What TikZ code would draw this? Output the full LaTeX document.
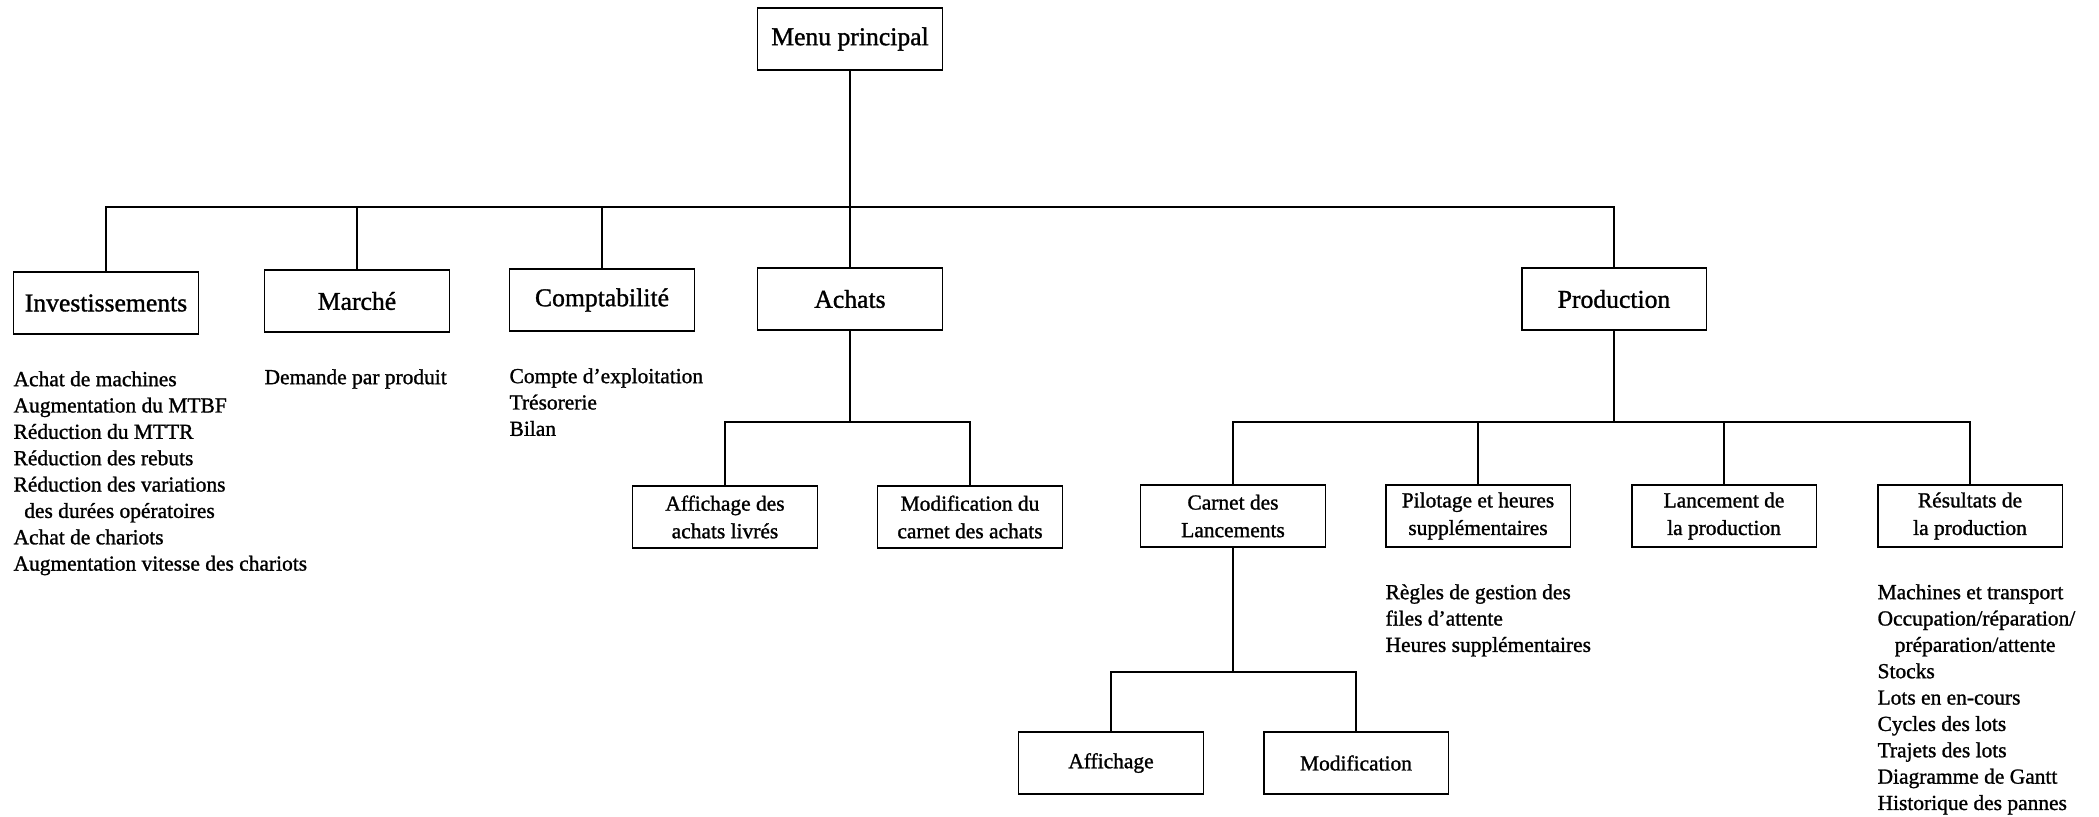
\documentclass[tikz,border=0pt]{standalone}
\usepackage{fontspec}
\setmainfont{Liberation Serif}[FakeBold=1.2]
\usetikzlibrary{positioning}
\tikzset{boite/.style={draw, rectangle, line width=1.1pt, minimum width=3.7cm, minimum height=1.25cm, inner sep=2pt, align=center}}
\tikzstyle{grand}=[boite, font=\fontsize{14.6}{17}\selectfont]
\tikzstyle{petit}=[boite, font=\fontsize{12.2}{15.7}\selectfont]
\tikzstyle{liste}=[align=left, inner sep=0pt, font=\fontsize{12.2}{15}\selectfont]

\begin{document}
\begin{tikzpicture}[x=0.02cm, y=-0.02cm, line width=1.2pt]
\useasboundingbox (0,0) rectangle (2099,816);
\node[grand] (menu) at (850,39) {Menu principal};
\node[grand] (inv) at (106,303) {Investissements};
\node[grand] (mar) at (357,301) {Marché};
\node[grand] (compta) at (602,300) {Comptabilité};
\node[grand] (ach) at (850,299) {Achats};
\node[grand] (prod) at (1614,299) {Production};
\node[petit] (affach) at (725,517) {Affichage des\\achats livrés};
\node[petit] (modach) at (970,517) {Modification du\\carnet des achats};
\node[petit] (carnet) at (1233,516) {Carnet des\\Lancements};
\node[petit] (pilot) at (1478,516) {Pilotage et heures\\supplémentaires};
\node[petit] (lanc) at (1724,516) {Lancement de\\la production};
\node[petit] (res) at (1970,516) {Résultats de\\la production};
\node[petit] (affi) at (1111,763) {Affichage};
\node[petit] (modi) at (1356,763) {Modification};

\node[liste, below right=0.7cm and 0cm of inv.south west] (invl) {Achat de machines\\Augmentation du MTBF\\Réduction du MTTR\\Réduction des rebuts\\Réduction des variations\\\hspace{0.5em}des durées opératoires\\Achat de chariots\\Augmentation vitesse des chariots};
\node[liste, below right=0.7cm and 0cm of mar.south west] (marl) {Demande par produit};
\node[liste, below right=0.7cm and 0cm of compta.south west] (comptal) {Compte d'exploitation\\Trésorerie\\Bilan};
\node[liste, below right=0.7cm and 0cm of pilot.south west] (pilotl) {Règles de gestion des\\files d'attente\\Heures supplémentaires};
\node[liste, below right=0.7cm and 0cm of res.south west] (resl) {Machines et transport\\Occupation/réparation/\\\hspace{0.8em}préparation/attente\\Stocks\\Lots en en-cours\\Cycles des lots\\Trajets des lots\\Diagramme de Gantt\\Historique des pannes};

\coordinate (bus) at (850,207);
\coordinate (busach) at (850,422);
\coordinate (busprod) at (1614,422);
\coordinate (buscarnet) at (1233,672);
\draw (menu) -- (ach);
\draw (inv) |- (bus) -| (prod);
\draw (mar) -- (mar |- bus);
\draw (compta) -- (compta |- bus);
\draw (ach) -- (busach);
\draw (affach) |- (busach) -| (modach);
\draw (prod) -- (busprod);
\draw (carnet) |- (busprod) -| (res);
\draw (pilot) -- (pilot |- busprod);
\draw (lanc) -- (lanc |- busprod);
\draw (carnet) -- (buscarnet);
\draw (affi) |- (buscarnet) -| (modi);
\end{tikzpicture}
\end{document}
